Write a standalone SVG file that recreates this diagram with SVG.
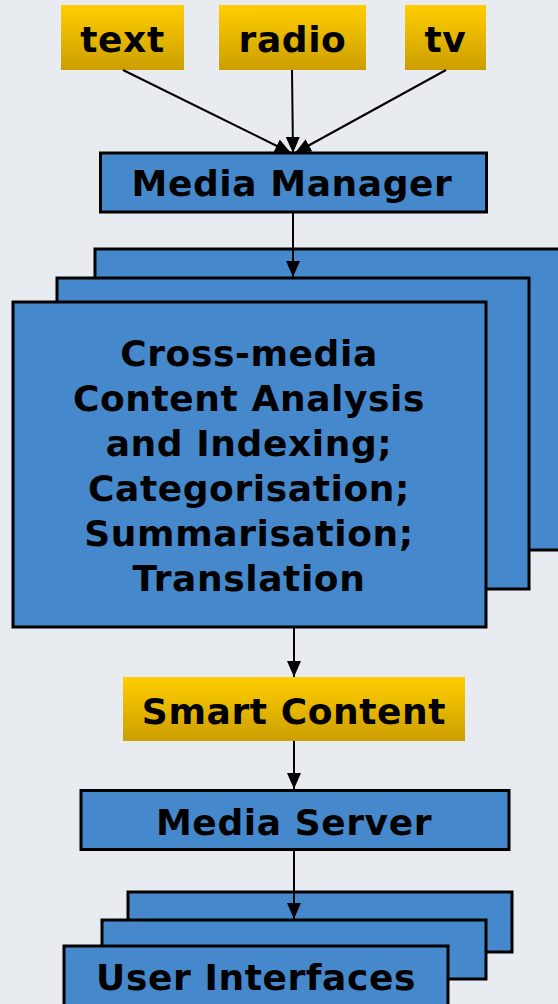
<svg xmlns="http://www.w3.org/2000/svg" width="558" height="1004" viewBox="0 0 558 1004">
<defs>
<linearGradient id="gold" x1="0" y1="0" x2="0" y2="1">
<stop offset="0" stop-color="#FFCE00"/>
<stop offset="1" stop-color="#CC9E00"/>
</linearGradient>
<marker id="ah" viewBox="0 0 16 14" refX="16" refY="7" markerWidth="16" markerHeight="14" markerUnits="userSpaceOnUse" orient="auto">
<path d="M0,0 L16,7 L0,14 Z" fill="#000"/>
</marker>
</defs>
<style>
.gold{fill:url(#gold);}
.blue{fill:#4589CC;stroke:#000;stroke-width:3;}
.t{font-family:"DejaVu Sans",Verdana,sans-serif;font-weight:bold;font-size:36px;letter-spacing:0.6px;fill:#000;text-anchor:middle;}
.c{stroke:#000;stroke-width:2;fill:none;marker-end:url(#ah);}
</style>
<rect width="558" height="1004" fill="#E8ECF0"/>
<g id="text"><rect class="gold" x="61" y="5" width="123" height="65"/><text class="t" x="122.5" y="52">text</text></g>
<g id="radio"><rect class="gold" x="219" y="5" width="147" height="65"/><text class="t" x="292.5" y="52">radio</text></g>
<g id="tv"><rect class="gold" x="405" y="5" width="81" height="65"/><text class="t" x="445.5" y="52">tv</text></g>
<g id="media-manager"><rect class="blue" x="100.5" y="153" width="386" height="59"/><text class="t" x="292" y="196">Media Manager</text></g>
<g id="analysis">
<rect class="blue" x="95" y="249" width="470" height="301"/>
<rect class="blue" x="57" y="278" width="472" height="311"/>
<rect class="blue" x="13" y="302" width="473" height="325"/>
<text class="t" x="249" y="366">Cross-media</text>
<text class="t" x="249" y="411">Content Analysis</text>
<text class="t" x="249" y="456">and Indexing;</text>
<text class="t" x="249" y="501">Categorisation;</text>
<text class="t" x="249" y="546">Summarisation;</text>
<text class="t" x="249" y="591">Translation</text>
</g>
<g id="smart-content"><rect class="gold" x="123" y="677" width="342" height="64"/><text class="t" x="294" y="724">Smart Content</text></g>
<g id="media-server"><rect class="blue" x="81" y="790.5" width="428" height="59"/><text class="t" x="294" y="835">Media Server</text></g>
<g id="user-interfaces">
<rect class="blue" x="128" y="892" width="384" height="60"/>
<rect class="blue" x="102" y="920" width="384" height="59"/>
<rect class="blue" x="64" y="946" width="384" height="70"/>
<text class="t" x="256" y="990">User Interfaces</text>
</g>
<g id="connectors">
<line class="c" x1="123" y1="70" x2="291" y2="153"/>
<line class="c" x1="292" y1="70" x2="293" y2="153"/>
<line class="c" x1="446" y1="70" x2="295" y2="153"/>
<line class="c" x1="293" y1="213" x2="293" y2="277"/>
<line class="c" x1="294" y1="628" x2="294" y2="677"/>
<line class="c" x1="294" y1="741" x2="294" y2="789"/>
<line class="c" x1="294" y1="851" x2="294" y2="919"/>
</g>
</svg>
